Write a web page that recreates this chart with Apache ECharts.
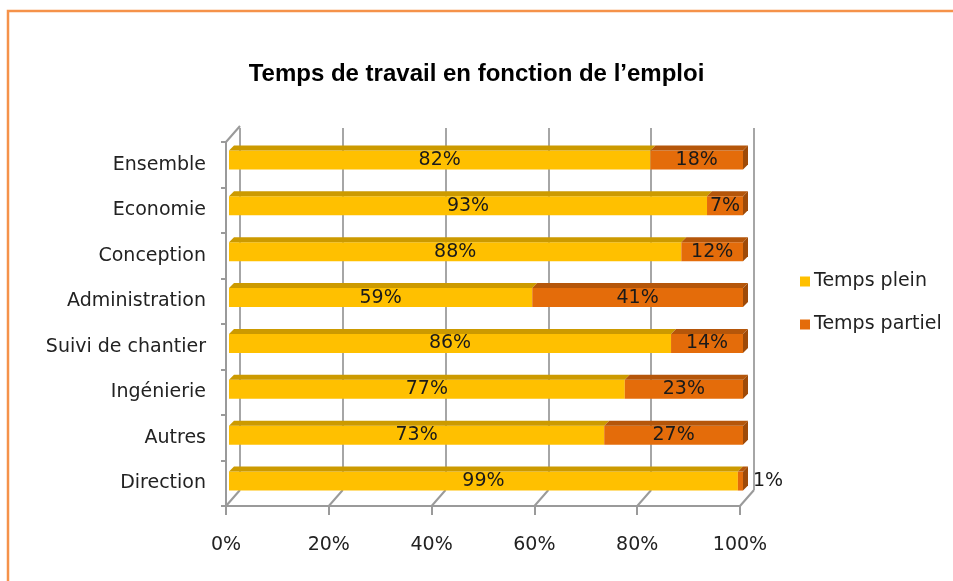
<!DOCTYPE html>
<html>
<head>
<meta charset="utf-8">
<script src="https://cdn.jsdelivr.net/npm/echarts@6/dist/echarts.min.js"></script>
<style>
  html, body { margin: 0; padding: 0; background: #fff; }
  #chart { width: 953px; height: 581px; }
</style>
</head>
<body>
<div id="chart"></div>
<script>
// données
const emplois = ['Ensemble', 'Economie', 'Conception', 'Administration',
  'Suivi de chantier', 'Ingénierie', 'Autres', 'Direction'];
const tempsPlein = [82, 93, 88, 59, 86, 77, 73, 99];
const tempsPartiel = [18, 7, 12, 41, 14, 23, 27, 1];
const graduations = [0, 20, 40, 60, 80, 100];

const jaune = '#FFC000';
const orange = '#E46C0A';
const police = 'DejaVu Sans';
const profondeur = 5;   // relief des barres
const mur = { dx: 14, dy: 16 }; // décalage du mur du fond

const container = document.getElementById('chart');
const miGrafico = echarts.init(container);

// faces du dessus et côté droit (effet 3D)
function relief(params, api) {
  const idx = api.value(0);
  const plein = api.value(1);
  const partiel = api.value(2);
  const h = 19;
  const a = api.coord([0, idx]);
  const b = api.coord([plein, idx]);
  const c = api.coord([plein + partiel, idx]);
  const yTop = a[1] - h / 2;
  const yBot = a[1] + h / 2;
  const d = profondeur;
  const dessus = (x0, x1, col) => ({
    type: 'polygon',
    shape: { points: [[x0, yTop], [x1, yTop], [x1 + d, yTop - d], [x0 + d, yTop - d]] },
    style: { fill: col }
  });
  return {
    type: 'group',
    children: [
      dessus(a[0], b[0], '#CC9A00'),
      dessus(b[0], c[0], '#B5560A'),
      {
        type: 'polygon',
        shape: { points: [[c[0], yTop], [c[0] + d, yTop - d], [c[0] + d, yBot - d], [c[0], yBot]] },
        style: { fill: '#9E4A08' }
      }
    ]
  };
}

// diagonales du plancher et de l'angle haut gauche
function plancher(params, api) {
  const cs = params.coordSys;
  const v = api.value(0);
  const p = api.coord([v, 0]);
  const yb = cs.y + cs.height;
  const lignes = [{
    type: 'line',
    shape: { x1: p[0], y1: yb, x2: p[0] + mur.dx, y2: yb - mur.dy },
    style: { stroke: '#9a9a9a', lineWidth: 2 }
  }];
  if (v === 0) {
    lignes.push({
      type: 'line',
      shape: { x1: p[0], y1: cs.y, x2: p[0] + mur.dx, y2: cs.y - mur.dy },
      style: { stroke: '#9a9a9a', lineWidth: 2 }
    });
  }
  return { type: 'group', children: lignes };
}

const opciones = {
  animation: false,
  backgroundColor: '#fff',
  title: {
    text: 'Temps de travail en fonction de l’emploi',
    left: 'center',
    top: 57,
    textStyle: { fontFamily: 'Liberation Sans', fontWeight: 'bold', fontSize: 24, color: '#000' }
  },
  legend: {
    orient: 'vertical',
    left: 795,
    top: 267,
    itemWidth: 10,
    itemHeight: 10,
    itemGap: 24,
    icon: 'rect',
    data: ['Temps plein', 'Temps partiel'],
    textStyle: { fontFamily: police, fontSize: 19, color: '#222', padding: [0, 0, 0, -1] }
  },
  graphic: [{
    type: 'rect',
    shape: { x: 8, y: 11, width: 1000, height: 620 },
    style: { fill: 'none', stroke: '#F5924A', lineWidth: 2.5 },
    silent: true
  }],
  grid: [
    // plan avant (axes)
    { left: 226, right: 213, top: 142, bottom: 75 },
    // mur du fond (quadrillage)
    { left: 240, right: 199, top: 128, bottom: 91 },
    // barres
    { left: 229, right: 210, top: 137, bottom: 77 }
  ],
  xAxis: [
    {
      gridIndex: 0, type: 'value', min: 0, max: 100, interval: 20,
      axisLine: { show: true, lineStyle: { color: '#9a9a9a', width: 2 } },
      axisTick: { show: true, length: 9, lineStyle: { color: '#9a9a9a', width: 2 } },
      splitLine: { show: false },
      axisLabel: { formatter: '{value}%', margin: 30, fontFamily: police, fontSize: 19, color: '#222' }
    },
    {
      gridIndex: 1, type: 'value', min: 0, max: 100, interval: 20,
      axisLine: { show: false }, axisTick: { show: false }, axisLabel: { show: false },
      splitLine: { show: true, lineStyle: { color: '#a6a6a6', width: 2 } }
    },
    {
      gridIndex: 2, type: 'value', min: 0, max: 100, show: false
    }
  ],
  yAxis: [
    {
      gridIndex: 0, type: 'category', inverse: true, data: emplois,
      axisLine: { show: true, lineStyle: { color: '#9a9a9a', width: 2 } },
      axisTick: { show: true, length: 5, lineStyle: { color: '#9a9a9a', width: 2 } },
      axisLabel: { margin: 20, fontFamily: police, fontSize: 19, color: '#222' }
    },
    { gridIndex: 1, type: 'category', inverse: true, data: emplois, show: false },
    { gridIndex: 2, type: 'category', inverse: true, data: emplois, show: false }
  ],
  series: [
    {
      type: 'custom',
      xAxisIndex: 0, yAxisIndex: 0,
      silent: true,
      renderItem: plancher,
      data: graduations.map(v => [v]),
      z: 1
    },
    {
      name: 'Temps plein',
      type: 'bar',
      stack: 'total',
      xAxisIndex: 2, yAxisIndex: 2,
      barWidth: 19,
      itemStyle: { color: jaune },
      label: {
        show: true, position: 'inside', formatter: '{c}%',
        fontFamily: police, fontSize: 19, color: '#1a1a1a'
      },
      data: tempsPlein,
      z: 3
    },
    {
      name: 'Temps partiel',
      type: 'bar',
      stack: 'total',
      xAxisIndex: 2, yAxisIndex: 2,
      barWidth: 19,
      itemStyle: { color: orange },
      label: {
        show: true, position: 'inside', formatter: '{c}%',
        fontFamily: police, fontSize: 19, color: '#1a1a1a'
      },
      data: tempsPartiel.map(v => v < 5
        ? { value: v, label: { position: 'right', distance: 10 } }
        : v),
      z: 3
    },
    {
      type: 'custom',
      xAxisIndex: 2, yAxisIndex: 2,
      silent: true,
      renderItem: relief,
      data: emplois.map((e, i) => [i, tempsPlein[i], tempsPartiel[i]]),
      z: 4
    }
  ]
};

miGrafico.setOption(opciones);
</script>
</body>
</html>
